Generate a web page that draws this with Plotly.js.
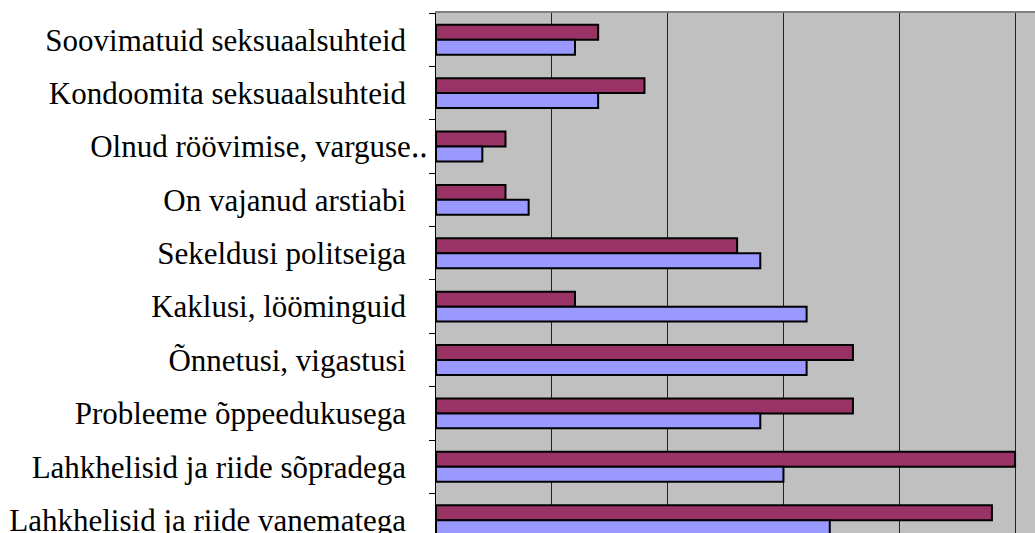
<!DOCTYPE html>
<html>
<head>
<meta charset="utf-8">
<script src="https://cdn.plot.ly/plotly-3.0.1.min.js"></script>
<style>html,body{margin:0;padding:0;background:#fff;}#chart{width:1035px;height:533px;}</style>
</head>
<body>
<div id="chart"></div>
<script>
const categories = [
  "Soovimatuid seksuaalsuhteid",
  "Kondoomita seksuaalsuhteid",
  "Olnud röövimise, varguse‥",
  "On vajanud arstiabi",
  "Sekeldusi politseiga",
  "Kaklusi, lööminguid",
  "Õnnetusi, vigastusi",
  "Probleeme õppeedukusega",
  "Lahkhelisid ja riide sõpradega",
  "Lahkhelisid ja riide vanematega"
];
const seriesA = [7, 9, 3, 3, 13, 6, 18, 18, 25, 24];
const seriesB = [6, 7, 2, 4, 14, 16, 16, 14, 15, 17];

// tick labels: untruncated labels keep a small right padding, like the original
const tickLabels = categories.map(c => c.endsWith('‥') ? c : c + '\u2002\u2009');

const traces = [
  {type: 'bar', orientation: 'h', y: categories, x: seriesA, name: 'A',
   marker: {color: '#993366', line: {color: '#000000', width: 2}}},
  {type: 'bar', orientation: 'h', y: categories, x: seriesB, name: 'B',
   marker: {color: '#9999FF', line: {color: '#000000', width: 2}}}
];

const layout = {
  width: 1035, height: 533,
  margin: {l: 436, r: 0, t: 13, b: 0, pad: 0},
  paper_bgcolor: '#ffffff',
  plot_bgcolor: '#C0C0C0',
  showlegend: false,
  barmode: 'group',
  bargap: 0.44,
  bargroupgap: 0,
  font: {family: 'Liberation Serif, Times New Roman, serif', color: '#000000', size: 31},
  xaxis: {
    side: 'top',
    range: [0, 25.86],
    dtick: 5, tick0: 0,
    showgrid: true, gridcolor: '#222222', gridwidth: 1,
    zeroline: false,
    showticklabels: false, ticks: '',
    showline: true, linecolor: '#808080', linewidth: 2
  },
  yaxis: {
    type: 'category',
    range: [9.24, -0.5],
    showgrid: false, zeroline: false,
    showline: true, linecolor: '#000000', linewidth: 1,
    ticks: 'outside', ticklen: 6, tickcolor: '#000000', tickwidth: 1,
    tickson: 'boundaries',
    tickmode: 'array', tickvals: categories, ticktext: tickLabels,
    ticklabelstandoff: 1,
    automargin: false,
    tickfont: {family: 'Liberation Serif, Times New Roman, serif', size: 31, color: '#000000'}
  }
};

Plotly.newPlot('chart', traces, layout, {staticPlot: true, displayModeBar: false});
</script>
</body>
</html>
